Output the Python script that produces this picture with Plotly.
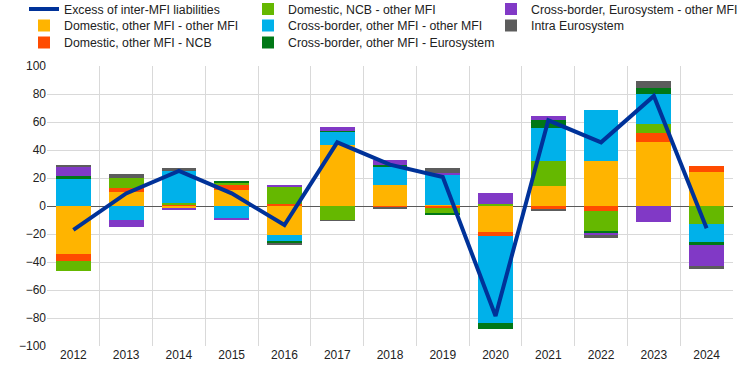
import plotly.graph_objects as go

years = ["2012", "2013", "2014", "2015", "2016", "2017", "2018",
         "2019", "2020", "2021", "2022", "2023", "2024"]

dom_other_other = [-34.0, 10.2, -1.3, 11.7, -20.7, 43.6, 15.0, 0.9, -18.6, 14.3, 32.1, 45.7, 24.3]
dom_other_ncb = [-5.3, 2.4, 1.4, 4.0, 1.4, 0.0, -1.2, -1.2, -2.8, -2.4, -3.6, 6.7, 4.3]
dom_ncb_other = [-6.9, 7.1, 0.9, 1.4, 12.2, -10.0, 0.0, -3.8, 1.4, 17.8, -14.3, 6.2, -12.6]
cb_other_other = [19.8, -10.0, 22.9, -8.6, -5.0, 9.3, 13.1, 21.7, -61.9, 23.8, 36.4, 21.4, -13.1]
cb_other_euro = [1.4, 0.0, 0.0, 0.8, -1.4, 0.7, 1.4, -1.7, -4.3, 5.5, -1.9, 4.3, -2.2]
cb_euro_other = [6.9, -4.8, -1.9, -0.7, 0.7, 2.8, 3.4, 1.2, 8.1, 2.9, -1.4, -11.4, -14.7]
intra_euro = [1.4, 3.1, 1.9, 0.0, -0.5, -0.5, -0.7, 3.3, 0.0, -0.8, -1.4, 5.0, -2.4]
excess = [-17.0, 9.0, 25.0, 9.0, -13.6, 45.5, 29.5, 20.7, -78.6, 61.2, 45.5, 78.6, -15.9]

xpos = list(range(len(years)))

# (name, values, colour, legend id)
series = [
    ("Domestic, other MFI - other MFI", dom_other_other, "#FFB400", "legend2"),
    ("Domestic, other MFI - NCB", dom_other_ncb, "#FF4B00", "legend3"),
    ("Domestic, NCB - other MFI", dom_ncb_other, "#65B800", "legend4"),
    ("Cross-border, other MFI - other MFI", cb_other_other, "#00B1EA", "legend5"),
    ("Cross-border, other MFI - Eurosystem", cb_other_euro, "#007816", "legend6"),
    ("Cross-border, Eurosystem - other MFI", cb_euro_other, "#8139C6", "legend7"),
    ("Intra Eurosystem", intra_euro, "#5C5C5C", "legend8"),
]

fig = go.Figure()
for name, vals, col, lg in series:
    fig.add_trace(go.Bar(x=xpos, y=vals, name=name, marker=dict(color=col, line=dict(width=0)),
                         width=0.66, legend=lg))

fig.add_trace(go.Scatter(x=xpos, y=excess, name="Excess of inter-MFI liabilities", mode="lines",
                         line=dict(color="#003299", width=4), legend="legend"))

font = dict(family="Liberation Sans, Arial, sans-serif", size=12, color="#222222")
legfont = dict(family="Liberation Sans, Arial, sans-serif", size=12.3, color="#222222")

W, H = 744, 373
col_x = [24, 248, 491]
row_y = [9, 25.5, 42.5]
slots = {
    "legend": (0, 0), "legend2": (0, 1), "legend3": (0, 2),
    "legend4": (1, 0), "legend5": (1, 1), "legend6": (1, 2),
    "legend7": (2, 0), "legend8": (2, 1),
}
legends = {}
for lg, (c, r) in slots.items():
    legends[lg] = dict(orientation="v", xref="container", yref="container",
                       x=col_x[c] / W, y=1 - row_y[r] / H, xanchor="left", yanchor="middle",
                       font=legfont, bgcolor="rgba(0,0,0,0)", itemwidth=30,
                       borderwidth=0)

fig.update_layout(
    width=W, height=H,
    margin=dict(l=47, r=11, t=66, b=27, autoexpand=False),
    paper_bgcolor="white", plot_bgcolor="white",
    barmode="relative", bargap=0,
    font=font,
    showlegend=True,
    xaxis=dict(range=[-0.5, 12.5], tickmode="array", tickvals=xpos, ticktext=years,
               showgrid=False, zeroline=False, showline=False, ticks="",
               minor=dict(tick0=-0.5, dtick=1, showgrid=True, gridcolor="#D9D9D9", gridwidth=1),
               tickfont=font),
    yaxis=dict(range=[-100, 100], dtick=20, showgrid=True, gridcolor="#D9D9D9", gridwidth=1,
               zeroline=True, zerolinecolor="#595959", zerolinewidth=1, showline=False,
               ticks="", tickfont=font),
    **legends,
)

fig.write_html("out.html", config={"displayModeBar": False},
               post_script="document.body.style.margin='0px';")
